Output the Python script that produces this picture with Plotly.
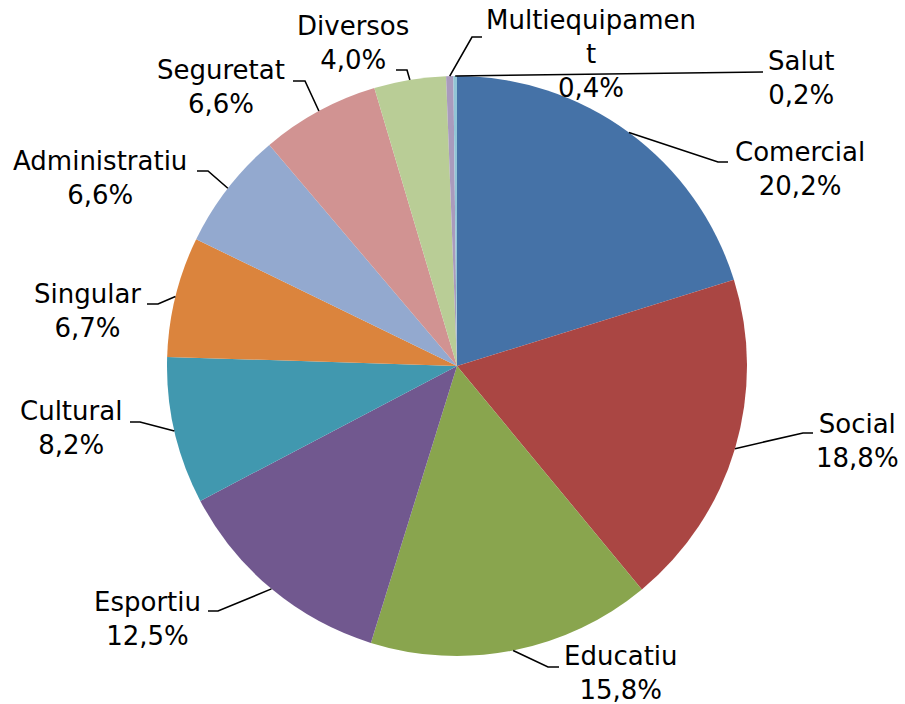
import math
import plotly.graph_objects as go

# ---- data ----
categories = ["Comercial", "Social", "Educatiu", "Esportiu", "Cultural", "Singular",
              "Administratiu", "Seguretat", "Diversos", "Multiequipament", "Salut"]
shares = [20.2, 18.8, 15.8, 12.5, 8.2, 6.7, 6.6, 6.6, 4.0, 0.4, 0.2]
label_names = ["Comercial", "Social", "Educatiu", "Esportiu", "Cultural", "Singular",
               "Administratiu", "Seguretat", "Diversos", "Multiequipamen<br>t", "Salut"]

# ---- style / layout ----
colors = ["#4572A7", "#AA4643", "#89A54E", "#71588F", "#4198AF", "#DB843D",
          "#93A9CF", "#D19392", "#B9CD96", "#A99BBD", "#92C5D6"]
W, H = 905, 704
PIE_CX, PIE_CY, PIE_R = 457, 366, 290
FONT = "DejaVu Sans"
FS = 26
# label layout (pixels): text centre x, first baseline y, elbow point, end of horizontal part
label_cx = [800, 857, 621, 147, 71, 87, 100, 221, 353, 591, 801]
label_b1 = [163, 435, 667, 613, 422, 305, 172, 81, 37, 32, 72]
elbow = [(718, 162), (803, 433), (548, 667), (218, 611), (140, 422), (158, 304),
         (208, 171), (305, 81), (407, 70), (472, 37), (763, 72)]
hend = [(728, 162), (813, 433), (559, 667), (208, 611), (130, 422), (147, 304),
        (197, 171), (293, 81), (396, 70), (482, 37), (763, 72)]
LINE_GAP = 31


def px(x):
    return x / W


def py(y):
    return 1 - y / H


fig = go.Figure(go.Pie(
    labels=categories, values=shares, sort=False, direction="clockwise", rotation=0,
    marker=dict(colors=colors, line=dict(width=0)),
    textinfo="none", hoverinfo="label+percent", showlegend=False,
    domain=dict(x=[px(PIE_CX - PIE_R), px(PIE_CX + PIE_R)],
                y=[py(PIE_CY + PIE_R), py(PIE_CY - PIE_R)]),
))

total = sum(shares)
cum = 0.0
shapes = []
annotations = []
for i, (name, v) in enumerate(zip(label_names, shares)):
    mid = (cum + v / 2) / total * 2 * math.pi
    cum += v
    sx = PIE_CX + PIE_R * math.sin(mid)
    sy = PIE_CY - PIE_R * math.cos(mid)
    ex, ey = elbow[i]
    hx, hy = hend[i]
    shapes.append(dict(
        type="path", xref="paper", yref="paper",
        path=f"M {px(sx)} {py(sy)} L {px(ex)} {py(ey)} L {px(hx)} {py(hy)}",
        line=dict(color="black", width=1.6)))
    text = f"{name}<br>{v:.1f}%".replace(".", ",")
    nlines = text.count("<br>") + 1
    b_last = label_b1[i] + LINE_GAP * (nlines - 1)
    yc = (label_b1[i] + b_last) / 2 - 0.35 * FS
    annotations.append(dict(
        x=px(label_cx[i]), y=py(yc), xref="paper", yref="paper",
        xanchor="center", yanchor="middle", text=text, showarrow=False,
        align="center", font=dict(family=FONT, size=FS, color="black")))

fig.update_layout(
    width=W, height=H, margin=dict(l=0, r=0, t=0, b=0),
    paper_bgcolor="white", plot_bgcolor="white",
    shapes=shapes, annotations=annotations,
)
fig.write_html("out.html", config={"displayModeBar": False},
               post_script="document.body.style.margin='0';document.body.style.padding='0';")
